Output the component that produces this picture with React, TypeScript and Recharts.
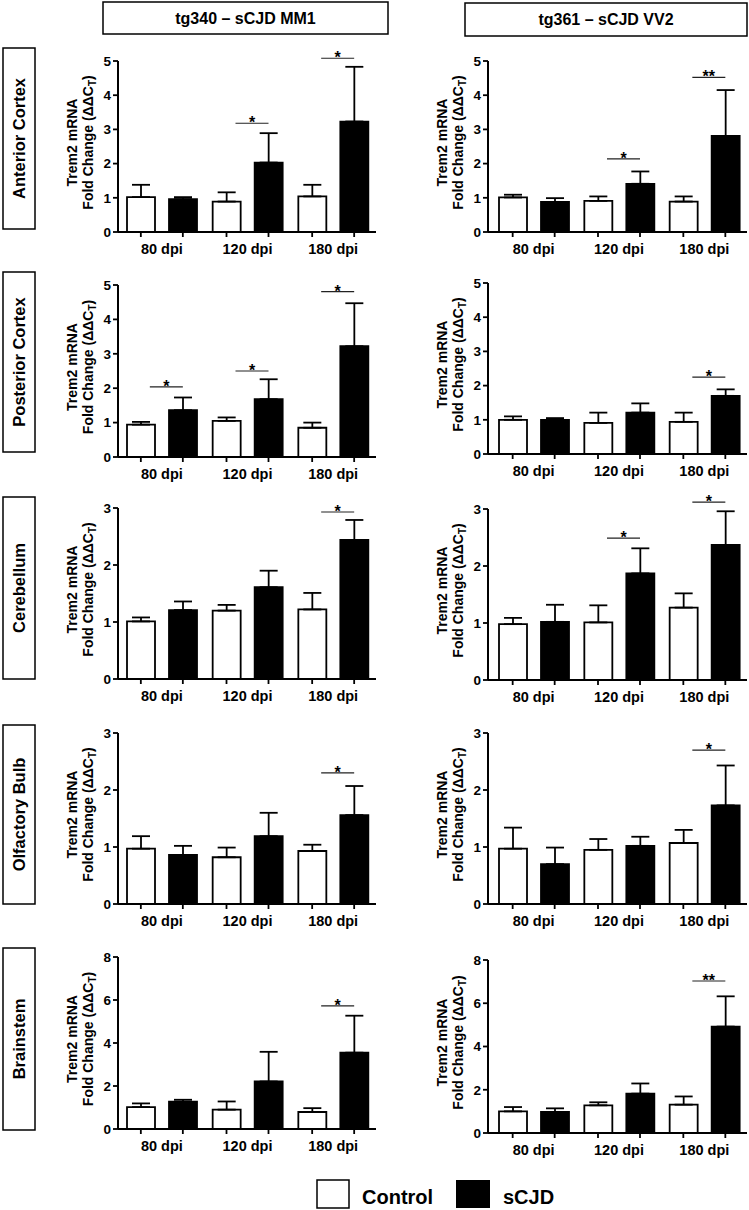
import { Bar, ComposedChart, ErrorBar, ReferenceDot, XAxis, YAxis } from "recharts";

const FONT = '"Liberation Sans", Arial, Helvetica, sans-serif';

const dpi = ["80 dpi", "120 dpi", "180 dpi"];
const ticks5 = [0, 1, 2, 3, 4, 5];
const ticks3 = [0, 1, 2, 3];
const ticks8 = [0, 2, 4, 6, 8];

// Anterior cortex
const acMm1Ctrl = [1.02, 0.89, 1.04];
const acMm1CtrlSd = [0.36, 0.27, 0.34];
const acMm1Cjd = [0.96, 2.03, 3.23];
const acMm1CjdSd = [0.06, 0.86, 1.6];
const acMm1SigY = [null, 3.18, 5.08];
const acMm1Sig = ["", "*", "*"];

const acVv2Ctrl = [1.01, 0.91, 0.89];
const acVv2CtrlSd = [0.08, 0.13, 0.15];
const acVv2Cjd = [0.88, 1.41, 2.81];
const acVv2CjdSd = [0.11, 0.36, 1.34];
const acVv2SigY = [null, 2.14, 4.52];
const acVv2Sig = ["", "*", "**"];

// Posterior cortex
const pcMm1Ctrl = [0.94, 1.05, 0.85];
const pcMm1CtrlSd = [0.08, 0.1, 0.15];
const pcMm1Cjd = [1.36, 1.68, 3.22];
const pcMm1CjdSd = [0.37, 0.58, 1.25];
const pcMm1SigY = [2.04, 2.5, 4.81];
const pcMm1Sig = ["*", "*", "*"];

const pcVv2Ctrl = [1.0, 0.91, 0.94];
const pcVv2CtrlSd = [0.1, 0.3, 0.27];
const pcVv2Cjd = [1.0, 1.21, 1.7];
const pcVv2CjdSd = [0.05, 0.27, 0.19];
const pcVv2SigY = [null, null, 2.25];
const pcVv2Sig = ["", "", "*"];

// Cerebellum
const cbMm1Ctrl = [1.01, 1.2, 1.22];
const cbMm1CtrlSd = [0.07, 0.1, 0.29];
const cbMm1Cjd = [1.21, 1.61, 2.44];
const cbMm1CjdSd = [0.15, 0.29, 0.35];
const cbMm1SigY = [null, null, 2.93];
const cbMm1Sig = ["", "", "*"];

const cbVv2Ctrl = [0.98, 1.01, 1.27];
const cbVv2CtrlSd = [0.11, 0.3, 0.25];
const cbVv2Cjd = [1.02, 1.87, 2.37];
const cbVv2CjdSd = [0.3, 0.44, 0.59];
const cbVv2SigY = [null, 2.49, 3.12];
const cbVv2Sig = ["", "*", "*"];

// Olfactory bulb
const obMm1Ctrl = [0.97, 0.82, 0.93];
const obMm1CtrlSd = [0.22, 0.17, 0.11];
const obMm1Cjd = [0.86, 1.19, 1.56];
const obMm1CjdSd = [0.16, 0.41, 0.51];
const obMm1SigY = [null, null, 2.3];
const obMm1Sig = ["", "", "*"];

const obVv2Ctrl = [0.97, 0.95, 1.07];
const obVv2CtrlSd = [0.37, 0.19, 0.23];
const obVv2Cjd = [0.7, 1.02, 1.73];
const obVv2CjdSd = [0.29, 0.16, 0.7];
const obVv2SigY = [null, null, 2.7];
const obVv2Sig = ["", "", "*"];

// Brainstem
const bsMm1Ctrl = [1.02, 0.9, 0.79];
const bsMm1CtrlSd = [0.17, 0.38, 0.18];
const bsMm1Cjd = [1.27, 2.21, 3.55];
const bsMm1CjdSd = [0.09, 1.38, 1.72];
const bsMm1SigY = [null, null, 5.73];
const bsMm1Sig = ["", "", "*"];

const bsVv2Ctrl = [1.0, 1.28, 1.31];
const bsVv2CtrlSd = [0.2, 0.14, 0.38];
const bsVv2Cjd = [0.97, 1.82, 4.92];
const bsVv2CjdSd = [0.17, 0.47, 1.4];
const bsVv2SigY = [null, null, 7.03];
const bsVv2Sig = ["", "", "**"];

const regions = ["Anterior Cortex", "Posterior Cortex", "Cerebellum", "Olfactory Bulb", "Brainstem"];
const regionBoxes = [[48, 229], [272, 452], [497, 679], [725, 904], [948, 1130]];

const TOP = 20;
const XH = 32;
const leftCol = { x: 40, axisW: 78, plotW: 258, padLeft: 1 };
const rightCol = { x: 400, axisW: 88, plotW: 259, padLeft: 3 };

const panels = [
  { col: leftCol, y0: 61, y1: 232, ticks: ticks5, ctrl: acMm1Ctrl, ctrlSd: acMm1CtrlSd, cjd: acMm1Cjd, cjdSd: acMm1CjdSd, sigY: acMm1SigY, sig: acMm1Sig },
  { col: rightCol, y0: 61, y1: 232, ticks: ticks5, ctrl: acVv2Ctrl, ctrlSd: acVv2CtrlSd, cjd: acVv2Cjd, cjdSd: acVv2CjdSd, sigY: acVv2SigY, sig: acVv2Sig },
  { col: leftCol, y0: 285, y1: 457, ticks: ticks5, ctrl: pcMm1Ctrl, ctrlSd: pcMm1CtrlSd, cjd: pcMm1Cjd, cjdSd: pcMm1CjdSd, sigY: pcMm1SigY, sig: pcMm1Sig },
  { col: rightCol, y0: 283, y1: 454, ticks: ticks5, ctrl: pcVv2Ctrl, ctrlSd: pcVv2CtrlSd, cjd: pcVv2Cjd, cjdSd: pcVv2CjdSd, sigY: pcVv2SigY, sig: pcVv2Sig },
  { col: leftCol, y0: 508, y1: 679, ticks: ticks3, ctrl: cbMm1Ctrl, ctrlSd: cbMm1CtrlSd, cjd: cbMm1Cjd, cjdSd: cbMm1CjdSd, sigY: cbMm1SigY, sig: cbMm1Sig },
  { col: rightCol, y0: 509, y1: 680, ticks: ticks3, ctrl: cbVv2Ctrl, ctrlSd: cbVv2CtrlSd, cjd: cbVv2Cjd, cjdSd: cbVv2CjdSd, sigY: cbVv2SigY, sig: cbVv2Sig },
  { col: leftCol, y0: 733, y1: 904, ticks: ticks3, ctrl: obMm1Ctrl, ctrlSd: obMm1CtrlSd, cjd: obMm1Cjd, cjdSd: obMm1CjdSd, sigY: obMm1SigY, sig: obMm1Sig },
  { col: rightCol, y0: 733, y1: 904, ticks: ticks3, ctrl: obVv2Ctrl, ctrlSd: obVv2CtrlSd, cjd: obVv2Cjd, cjdSd: obVv2CjdSd, sigY: obVv2SigY, sig: obVv2Sig },
  { col: leftCol, y0: 957, y1: 1129, ticks: ticks8, ctrl: bsMm1Ctrl, ctrlSd: bsMm1CtrlSd, cjd: bsMm1Cjd, cjdSd: bsMm1CjdSd, sigY: bsMm1SigY, sig: bsMm1Sig },
  { col: rightCol, y0: 960, y1: 1133, ticks: ticks8, ctrl: bsVv2Ctrl, ctrlSd: bsVv2CtrlSd, cjd: bsVv2Cjd, cjdSd: bsVv2CjdSd, sigY: bsVv2SigY, sig: bsVv2Sig },
];

function XTick({ x, y, payload }: any) {
  return (
    <g>
      <line x1={x - 21} x2={x - 21} y1={y} y2={y + 5} stroke="#000" strokeWidth={1.8} />
      <line x1={x + 21} x2={x + 21} y1={y} y2={y + 5} stroke="#000" strokeWidth={1.8} />
      <text x={x} y={y + 22} textAnchor="middle" fontFamily={FONT} fontWeight={700} fontSize={14.5} fill="#000">
        {payload.value}
      </text>
    </g>
  );
}

function YLabel({ viewBox }: any) {
  if (!viewBox) return null;
  const ax = viewBox.x + viewBox.width;
  const cy = viewBox.y + viewBox.height / 2 - 4;
  return (
    <g fontFamily={FONT} fontWeight={700} fontSize={14} fill="#000">
      <text transform={`translate(${ax - 41},${cy}) rotate(-90)`} textAnchor="middle">Trem2 mRNA</text>
      <text transform={`translate(${ax - 25},${cy}) rotate(-90)`} textAnchor="middle">
        Fold Change (ΔΔC<tspan fontSize={10} dy={3}>T</tspan><tspan dy={-3}>)</tspan>
      </text>
    </g>
  );
}

function SigMark({ cx, cy, stars }: { cx: number; cy: number; stars: string }) {
  return (
    <g>
      <line x1={cx - 12} x2={cx + 21} y1={cy} y2={cy} stroke="#222" strokeWidth={1.2} />
      <text x={cx + 4.5} y={cy + 5} textAnchor="middle" fontFamily={FONT} fontWeight={700} fontSize={16} fill="#000">{stars}</text>
    </g>
  );
}

function TremPanel({ p }: { p: (typeof panels)[number] }) {
  const data = dpi.map((d, i) => ({
    dpi: d,
    ctrl: p.ctrl[i],
    ctrlErr: [0, p.ctrlSd[i]],
    cjd: p.cjd[i],
    cjdErr: [0, p.cjdSd[i]],
  }));
  const plotH = p.y1 - p.y0;
  const yMax = p.ticks[p.ticks.length - 1];
  return (
    <div style={{ position: "absolute", left: p.col.x, top: p.y0 - TOP }}>
      <ComposedChart
        width={p.col.axisW + p.col.plotW}
        height={TOP + plotH + XH}
        data={data}
        margin={{ top: TOP, right: 0, bottom: 0, left: 0 }}
        barSize={28}
        barGap={14}
      >
        <XAxis
          dataKey="dpi"
          interval={0}
          height={XH}
          tickLine={false}
          tickSize={0}
          tickMargin={0}
          axisLine={{ stroke: "#000", strokeWidth: 2 }}
          tick={<XTick />}
          padding={{ left: p.col.padLeft, right: 0 }}
        />
        <YAxis
          width={p.col.axisW}
          domain={[0, yMax]}
          ticks={p.ticks}
          allowDataOverflow
          tickSize={5}
          tickMargin={2}
          axisLine={{ stroke: "#000", strokeWidth: 2 }}
          tickLine={{ stroke: "#000", strokeWidth: 1.8 }}
          tick={{ fill: "#000", fontSize: 13.5, fontWeight: 700, fontFamily: FONT }}
          label={{ content: <YLabel /> }}
        />
        <Bar dataKey="ctrl" fill="#fff" stroke="#000" strokeWidth={1.8} isAnimationActive={false}>
          <ErrorBar dataKey="ctrlErr" width={9} stroke="#000" strokeWidth={1.8} direction="y" />
        </Bar>
        <Bar dataKey="cjd" fill="#000" stroke="#000" strokeWidth={1.8} isAnimationActive={false}>
          <ErrorBar dataKey="cjdErr" width={9} stroke="#000" strokeWidth={1.8} direction="y" />
        </Bar>
        {dpi.map((d, i) =>
          p.sigY[i] == null ? null : (
            <ReferenceDot
              key={d}
              x={d}
              y={p.sigY[i] as number}
              ifOverflow="visible"
              shape={(s: any) => <SigMark cx={s.cx} cy={s.cy} stars={p.sig[i]} />}
            />
          )
        )}
      </ComposedChart>
    </div>
  );
}

export default function App() {
  return (
    <div style={{ position: "absolute", left: 0, top: 0, width: 749, height: 1210, background: "#fff" }}>
      <svg width={749} height={1210} style={{ position: "absolute", left: 0, top: 0 }}>
        <g fontFamily={FONT} fontWeight={700} fill="#000">
          <rect x={103} y={2} width={285} height={32} fill="#fff" stroke="#000" strokeWidth={1.5} />
          <text x={245.5} y={24} textAnchor="middle" fontSize={16}>tg340 – sCJD MM1</text>
          <rect x={465} y={3} width={282} height={33} fill="#fff" stroke="#000" strokeWidth={1.5} />
          <text x={606} y={25} textAnchor="middle" fontSize={16}>tg361 – sCJD VV2</text>
          {regions.map((r, i) => {
            const [a, b] = regionBoxes[i];
            return (
              <g key={r}>
                <rect x={3} y={a} width={32} height={b - a} fill="#fff" stroke="#000" strokeWidth={1.5} />
                <text transform={`translate(25,${(a + b) / 2}) rotate(-90)`} textAnchor="middle" fontSize={16.5}>{r}</text>
              </g>
            );
          })}
          <rect x={317} y={1180} width={32} height={28} fill="#fff" stroke="#000" strokeWidth={1.5} />
          <text x={362} y={1204} fontSize={20}>Control</text>
          <rect x={456} y={1180} width={34} height={28} fill="#000" />
          <text x={503} y={1204} fontSize={20}>sCJD</text>
        </g>
      </svg>
      {panels.map((p, i) => (
        <TremPanel key={i} p={p} />
      ))}
    </div>
  );
}
